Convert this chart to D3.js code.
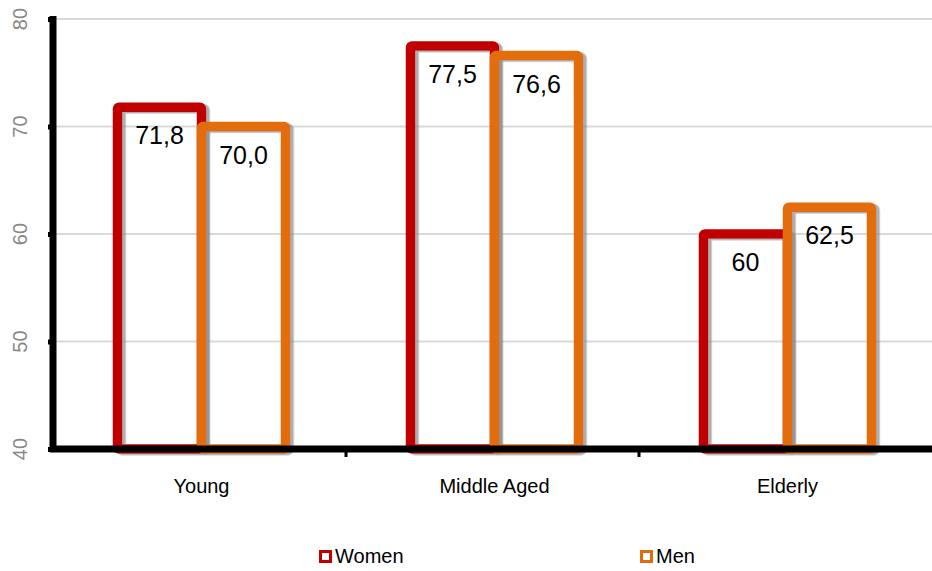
<!DOCTYPE html>
<html>
<head>
<meta charset="utf-8">
<script src="https://cdn.jsdelivr.net/npm/d3@7"></script>
<style>
  html, body { margin: 0; padding: 0; background: #fff; }
  svg { display: block; font-family: "Liberation Sans", Arial, sans-serif; }
</style>
</head>
<body>
<svg id="chart" width="932" height="571"></svg>
<script>
const categories = ["Young", "Middle Aged", "Elderly"];
const seriesNames = ["Women", "Men"];
const women = [71.8, 77.5, 60];
const men = [70.0, 76.6, 62.5];
const womenLabels = ["71,8", "77,5", "60"];
const menLabels = ["70,0", "76,6", "62,5"];
const yTicks = [40, 50, 60, 70, 80];
const colors = { Women: "#C00000", Men: "#E36C0A" };

(function () {
const svg = d3.select("#chart");
const pLeft = 53, pRight = 932, pTop = 19, pBottom = 449;

const x = d3.scaleBand().domain(categories).range([pLeft, pRight]).paddingInner(0).paddingOuter(0);
const xs = d3.scaleBand().domain(seriesNames).range([-82, 86]);
const y = d3.scaleLinear().domain([40, 80]).range([pBottom, pTop]);

const defs = svg.append("defs");
const f = defs.append("filter").attr("id", "shadow").attr("x", "-20%").attr("y", "-20%").attr("width", "140%").attr("height", "140%");
f.append("feDropShadow").attr("dx", 3.5).attr("dy", 1.5).attr("stdDeviation", 0.5).attr("flood-color", "#8c8c8c").attr("flood-opacity", 0.7);

// gridlines
svg.append("g").selectAll("line").data(yTicks.filter(t => t > 40)).join("line")
  .attr("x1", pLeft + 3).attr("x2", pRight)
  .attr("y1", d => y(d)).attr("y2", d => y(d))
  .attr("stroke", "#d9d9d9").attr("stroke-width", 2);

// bars
const data = [];
categories.forEach((c, i) => {
  data.push({ cat: c, s: "Women", v: women[i], label: womenLabels[i] });
  data.push({ cat: c, s: "Men", v: men[i], label: menLabels[i] });
});

const bw = xs.bandwidth();
const barG = svg.append("g");
data.forEach(d => {
  const cx = x(d.cat) + x.bandwidth() / 2;
  const x0 = cx + xs(d.s);
  barG.append("rect")
    .attr("x", x0).attr("y", y(d.v))
    .attr("width", bw).attr("height", y(40) - y(d.v))
    .attr("rx", 1.5)
    .attr("fill", "none")
    .attr("stroke", colors[d.s]).attr("stroke-width", 9.5)
    .attr("filter", "url(#shadow)");
});

// value labels
svg.append("g").selectAll("text").data(data).join("text")
  .attr("x", d => x(d.cat) + x.bandwidth() / 2 + xs(d.s) + bw / 2)
  .attr("y", d => y(d.v) + 37)
  .attr("text-anchor", "middle")
  .attr("font-size", 25)
  .attr("fill", "#000")
  .text(d => d.label);

// y axis
const yAxis = d3.axisLeft(y).tickValues(yTicks).tickSize(3).tickFormat("");
const ya = svg.append("g").attr("transform", `translate(${pLeft},0)`).call(yAxis);
ya.select(".domain").attr("stroke", "#000").attr("stroke-width", 7).attr("d", `M0,${pTop - 3}V${pBottom + 3}`);
ya.selectAll(".tick line").attr("stroke", "#000").attr("stroke-width", 5).attr("x2", -5);

// y labels (rotated)
svg.append("g").selectAll("text").data(yTicks).join("text")
  .attr("transform", d => `translate(27,${y(d)}) rotate(-90)`)
  .attr("text-anchor", "middle")
  .attr("font-size", 20)
  .attr("fill", "#888888")
  .text(d => d);

// x axis
const xAxis = d3.axisBottom(x).tickSize(0).tickFormat("");
const xa = svg.append("g").attr("transform", `translate(0,${pBottom})`).call(xAxis);
xa.select(".domain").attr("stroke", "#000").attr("stroke-width", 7).attr("d", `M${pLeft - 3},0H${pRight}`);
const bounds = categories.slice(1).map(c => x(c));
xa.selectAll(".bt").data(bounds).join("line").attr("class", "bt")
  .attr("x1", d => d).attr("x2", d => d).attr("y1", 3).attr("y2", 8)
  .attr("stroke", "#000").attr("stroke-width", 3);

svg.append("g").selectAll("text").data(categories).join("text")
  .attr("x", d => x(d) + x.bandwidth() / 2 + 2)
  .attr("y", 493)
  .attr("text-anchor", "middle")
  .attr("font-size", 20)
  .attr("fill", "#000")
  .text(d => d);

// legend
const legendX = [319, 640];
const lg = svg.append("g");
seriesNames.forEach((s, i) => {
  lg.append("rect").attr("x", legendX[i] + 1.5).attr("y", 551.5).attr("width", 10).attr("height", 10)
    .attr("fill", "#fff").attr("stroke", colors[s]).attr("stroke-width", 3);
  lg.append("text").attr("x", legendX[i] + 16).attr("y", 563).attr("font-size", 20).attr("fill", "#000").text(s);
});
})();
</script>
</body>
</html>
